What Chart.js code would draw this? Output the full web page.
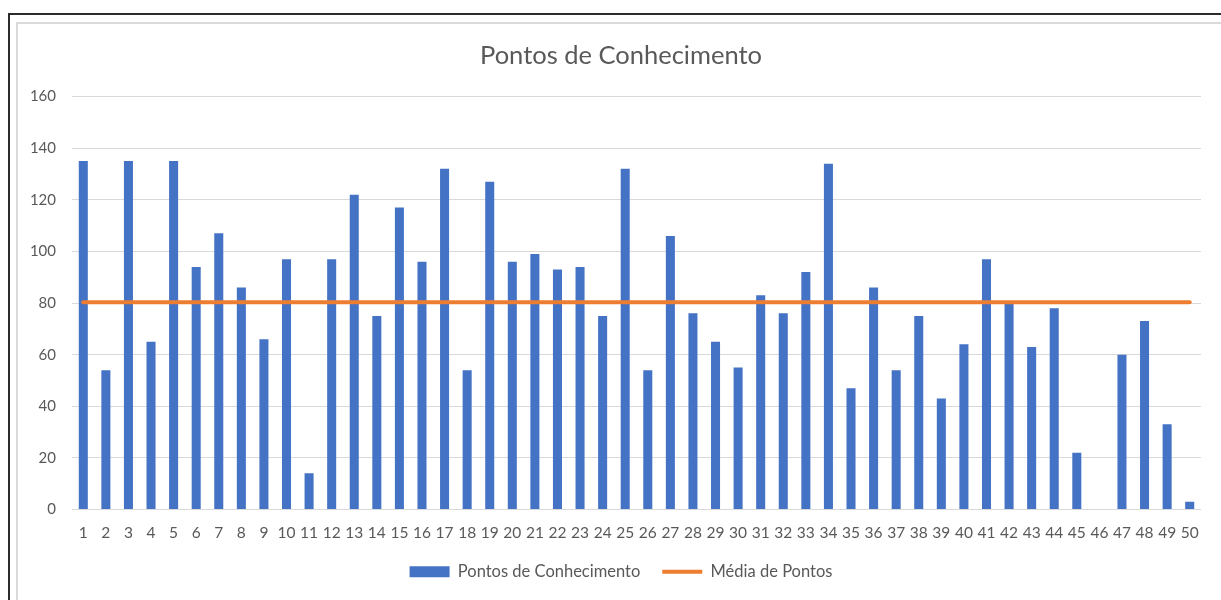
<!DOCTYPE html>
<html>
<head>
<meta charset="utf-8">
<script src="https://cdn.jsdelivr.net/npm/chart.js@4/dist/chart.umd.min.js"></script>
<style>
  html, body { margin: 0; padding: 0; background: #ffffff; overflow: hidden; }
  body { width: 1221px; height: 600px; position: relative; }
  #outer { position: absolute; left: 8px; top: 13px; width: 1400px; height: 800px;
           border-left: 2px solid #2b2b2b; border-top: 2px solid #2b2b2b; }
  #inner { position: absolute; left: 16px; top: 22px; width: 1400px; height: 800px;
           border-left: 2px solid #dadada; border-top: 2px solid #dadada; }
  #wrap { position: absolute; left: 0; top: 0; width: 1221px; height: 600px; }
</style>
</head>
<body>
<div id="outer"></div>
<div id="inner"></div>
<div id="wrap"><canvas id="c" width="1221" height="600"></canvas></div>
<script>
const categories = ["1","2","3","4","5","6","7","8","9","10","11","12","13","14","15","16","17","18","19","20","21","22","23","24","25","26","27","28","29","30","31","32","33","34","35","36","37","38","39","40","41","42","43","44","45","46","47","48","49","50"];
const pontosConhecimento = [135,54,135,65,135,94,107,86,66,97,14,97,122,75,117,96,132,54,127,96,99,93,94,75,132,54,106,76,65,55,83,76,92,134,47,86,54,75,43,64,97,80,63,78,22,0,60,73,33,3];
const mediaPontos = [80.3,80.3,80.3,80.3,80.3,80.3,80.3,80.3,80.3,80.3,80.3,80.3,80.3,80.3,80.3,80.3,80.3,80.3,80.3,80.3,80.3,80.3,80.3,80.3,80.3,80.3,80.3,80.3,80.3,80.3,80.3,80.3,80.3,80.3,80.3,80.3,80.3,80.3,80.3,80.3,80.3,80.3,80.3,80.3,80.3,80.3,80.3,80.3,80.3,80.3];
const seriesNames = ["Pontos de Conhecimento", "Média de Pontos"];
const chartTitle = "Pontos de Conhecimento";
const yTicks = { min: 0, max: 160, step: 20 };

const FONT = "Lato, 'Noto Sans', sans-serif";
const TEXT = "#595959";

new Chart(document.getElementById('c'), {
  data: {
    labels: categories,
    datasets: [
      {
        type: 'line',
        label: seriesNames[1],
        data: mediaPontos,
        borderColor: '#ED7D31',
        backgroundColor: '#ED7D31',
        borderWidth: 4,
        borderCapStyle: 'round',
        pointRadius: 0,
        pointHoverRadius: 0,
        pointStyle: 'line',
        order: 0
      },
      {
        type: 'bar',
        label: seriesNames[0],
        data: pontosConhecimento,
        backgroundColor: '#4472C4',
        borderWidth: 0,
        categoryPercentage: 1.0,
        barPercentage: 0.4,
        pointStyle: 'rect',
        order: 1
      }
    ]
  },
  options: {
    responsive: false,
    animation: false,
    devicePixelRatio: 1,
    layout: { padding: { left: 30, right: 9, top: 0, bottom: 10 } },
    plugins: {
      tooltip: { enabled: false },
      title: {
        display: true,
        text: chartTitle,
        color: TEXT,
        font: { family: FONT, size: 25.5, weight: 'normal' },
        padding: { top: 40, bottom: 26 }
      },
      legend: {
        display: true,
        position: 'bottom',
        reverse: true,
        labels: {
          color: TEXT,
          font: { family: FONT, size: 16.5 },
          usePointStyle: true,
          pointStyleWidth: 40,
          boxWidth: 40,
          boxHeight: 11,
          padding: 22
        }
      }
    },
    scales: {
      x: {
        grid: { display: false, drawTicks: false },
        border: { display: false },
        ticks: {
          color: TEXT,
          font: { family: FONT, size: 15.5 },
          autoSkip: false,
          maxRotation: 0,
          minRotation: 0,
          padding: 14
        },
        afterFit: (scale) => { scale.height = 32; }
      },
      y: {
        min: yTicks.min,
        max: yTicks.max,
        grid: { color: '#d9d9d9', lineWidth: 1, drawTicks: false },
        border: { display: false },
        ticks: {
          stepSize: yTicks.step,
          color: TEXT,
          font: { family: FONT, size: 15 },
          padding: 16
        },
        afterFit: (scale) => { scale.width = 42; }
      },
      y2: {
        position: 'right',
        min: yTicks.min,
        max: yTicks.max,
        grid: { display: false, drawTicks: false },
        border: { display: false },
        ticks: { display: false },
        afterFit: (scale) => { scale.width = 11; }
      }
    }
  }
});
</script>
</body>
</html>
